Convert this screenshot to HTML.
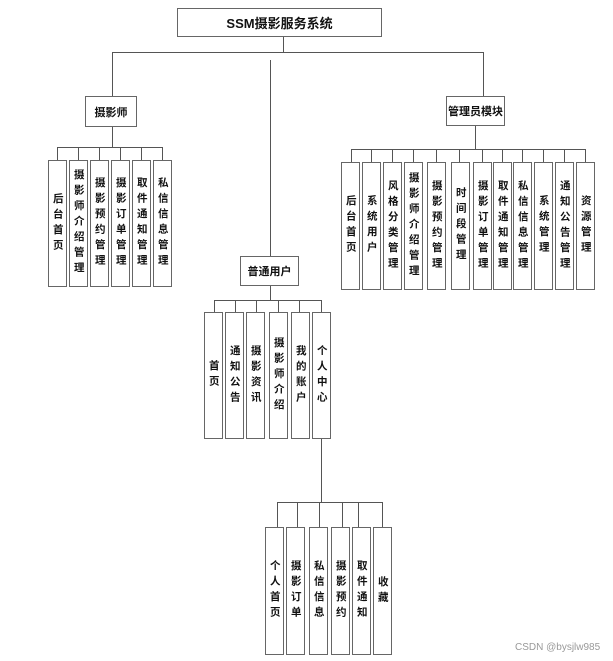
<!DOCTYPE html>
<html><head><meta charset="utf-8"><style>
body{margin:0;width:613px;height:661px;background:#fff;position:relative;overflow:hidden;font-family:"Liberation Sans","Noto Sans CJK SC",sans-serif}
.b{position:absolute;border:1.5px solid #666;box-sizing:border-box;background:#fff;display:flex;align-items:center;justify-content:center;font-weight:bold;font-size:11px;color:#111}
.v{writing-mode:vertical-rl;letter-spacing:5px;font-size:10.5px;line-height:1}
.l{position:absolute;background:#555}
</style></head><body>
<!-- lines -->
<div class="l" style="left:283px;top:36px;width:1px;height:16px"></div>
<div class="l" style="left:112px;top:52px;width:372px;height:1px"></div>
<div class="l" style="left:112px;top:52px;width:1px;height:44px"></div>
<div class="l" style="left:483px;top:52px;width:1px;height:44px"></div>
<div class="l" style="left:270px;top:60px;width:1px;height:196px"></div>
<!-- photographer -->
<div class="l" style="left:112px;top:127px;width:1px;height:20px"></div>
<div class="l" style="left:57px;top:147px;width:106px;height:1px"></div>
<div class="l" style="left:57px;top:147px;width:1px;height:13px"></div>
<div class="l" style="left:78px;top:147px;width:1px;height:13px"></div>
<div class="l" style="left:99px;top:147px;width:1px;height:13px"></div>
<div class="l" style="left:120px;top:147px;width:1px;height:13px"></div>
<div class="l" style="left:141px;top:147px;width:1px;height:13px"></div>
<div class="l" style="left:162px;top:147px;width:1px;height:13px"></div>
<!-- admin -->
<div class="l" style="left:475px;top:126px;width:1px;height:23px"></div>
<div class="l" style="left:351px;top:149px;width:235px;height:1px"></div>
<div class="l" style="left:351px;top:149px;width:1px;height:13px"></div>
<div class="l" style="left:371px;top:149px;width:1px;height:13px"></div>
<div class="l" style="left:392px;top:149px;width:1px;height:13px"></div>
<div class="l" style="left:413px;top:149px;width:1px;height:13px"></div>
<div class="l" style="left:436px;top:149px;width:1px;height:13px"></div>
<div class="l" style="left:459px;top:149px;width:1px;height:13px"></div>
<div class="l" style="left:482px;top:149px;width:1px;height:13px"></div>
<div class="l" style="left:502px;top:149px;width:1px;height:13px"></div>
<div class="l" style="left:522px;top:149px;width:1px;height:13px"></div>
<div class="l" style="left:543px;top:149px;width:1px;height:13px"></div>
<div class="l" style="left:564px;top:149px;width:1px;height:13px"></div>
<div class="l" style="left:585px;top:149px;width:1px;height:13px"></div>
<!-- user -->
<div class="l" style="left:270px;top:286px;width:1px;height:14px"></div>
<div class="l" style="left:214px;top:300px;width:108px;height:1px"></div>
<div class="l" style="left:214px;top:300px;width:1px;height:12px"></div>
<div class="l" style="left:235px;top:300px;width:1px;height:12px"></div>
<div class="l" style="left:256px;top:300px;width:1px;height:12px"></div>
<div class="l" style="left:278px;top:300px;width:1px;height:12px"></div>
<div class="l" style="left:299px;top:300px;width:1px;height:12px"></div>
<div class="l" style="left:321px;top:300px;width:1px;height:12px"></div>
<div class="l" style="left:321px;top:439px;width:1px;height:63px"></div>
<div class="l" style="left:277px;top:502px;width:106px;height:1px"></div>
<div class="l" style="left:277px;top:502px;width:1px;height:25px"></div>
<div class="l" style="left:297px;top:502px;width:1px;height:25px"></div>
<div class="l" style="left:319px;top:502px;width:1px;height:25px"></div>
<div class="l" style="left:342px;top:502px;width:1px;height:25px"></div>
<div class="l" style="left:358px;top:502px;width:1px;height:25px"></div>
<div class="l" style="left:382px;top:502px;width:1px;height:25px"></div>

<div class="b" style="left:177px;top:8px;width:205px;height:29px;font-size:13px">SSM摄影服务系统</div>
<div class="b" style="left:85px;top:96px;width:52px;height:31px">摄影师</div>
<div class="b" style="left:446px;top:96px;width:59px;height:30px">管理员模块</div>
<div class="b" style="left:240px;top:256px;width:59px;height:30px">普通用户</div>

<div class="b v" style="left:48px;top:160px;width:19px;height:127px">后台首页</div>
<div class="b v" style="left:69px;top:160px;width:19px;height:127px">摄影师介绍管理</div>
<div class="b v" style="left:90px;top:160px;width:19px;height:127px">摄影预约管理</div>
<div class="b v" style="left:111px;top:160px;width:19px;height:127px">摄影订单管理</div>
<div class="b v" style="left:132px;top:160px;width:19px;height:127px">取件通知管理</div>
<div class="b v" style="left:153px;top:160px;width:19px;height:127px">私信信息管理</div>

<div class="b v" style="left:341px;top:162px;width:19px;height:128px">后台首页</div>
<div class="b v" style="left:362px;top:162px;width:19px;height:128px">系统用户</div>
<div class="b v" style="left:383px;top:162px;width:19px;height:128px">风格分类管理</div>
<div class="b v" style="left:404px;top:162px;width:19px;height:128px">摄影师介绍管理</div>
<div class="b v" style="left:427px;top:162px;width:19px;height:128px">摄影预约管理</div>
<div class="b v" style="left:451px;top:162px;width:19px;height:128px">时间段管理</div>
<div class="b v" style="left:473px;top:162px;width:19px;height:128px">摄影订单管理</div>
<div class="b v" style="left:493px;top:162px;width:19px;height:128px">取件通知管理</div>
<div class="b v" style="left:513px;top:162px;width:19px;height:128px">私信信息管理</div>
<div class="b v" style="left:534px;top:162px;width:19px;height:128px">系统管理</div>
<div class="b v" style="left:555px;top:162px;width:19px;height:128px">通知公告管理</div>
<div class="b v" style="left:576px;top:162px;width:19px;height:128px">资源管理</div>

<div class="b v" style="left:204px;top:312px;width:19px;height:127px">首页</div>
<div class="b v" style="left:225px;top:312px;width:19px;height:127px">通知公告</div>
<div class="b v" style="left:246px;top:312px;width:19px;height:127px">摄影资讯</div>
<div class="b v" style="left:269px;top:312px;width:19px;height:127px">摄影师介绍</div>
<div class="b v" style="left:291px;top:312px;width:19px;height:127px">我的账户</div>
<div class="b v" style="left:312px;top:312px;width:19px;height:127px">个人中心</div>

<div class="b v" style="left:265px;top:527px;width:19px;height:128px">个人首页</div>
<div class="b v" style="left:286px;top:527px;width:19px;height:128px">摄影订单</div>
<div class="b v" style="left:309px;top:527px;width:19px;height:128px">私信信息</div>
<div class="b v" style="left:331px;top:527px;width:19px;height:128px">摄影预约</div>
<div class="b v" style="left:352px;top:527px;width:19px;height:128px">取件通知</div>
<div class="b v" style="left:373px;top:527px;width:19px;height:128px">收藏</div>

<div style="position:absolute;left:515px;top:642px;font-size:10px;color:#999">CSDN @bysjlw985</div>
</body></html>
